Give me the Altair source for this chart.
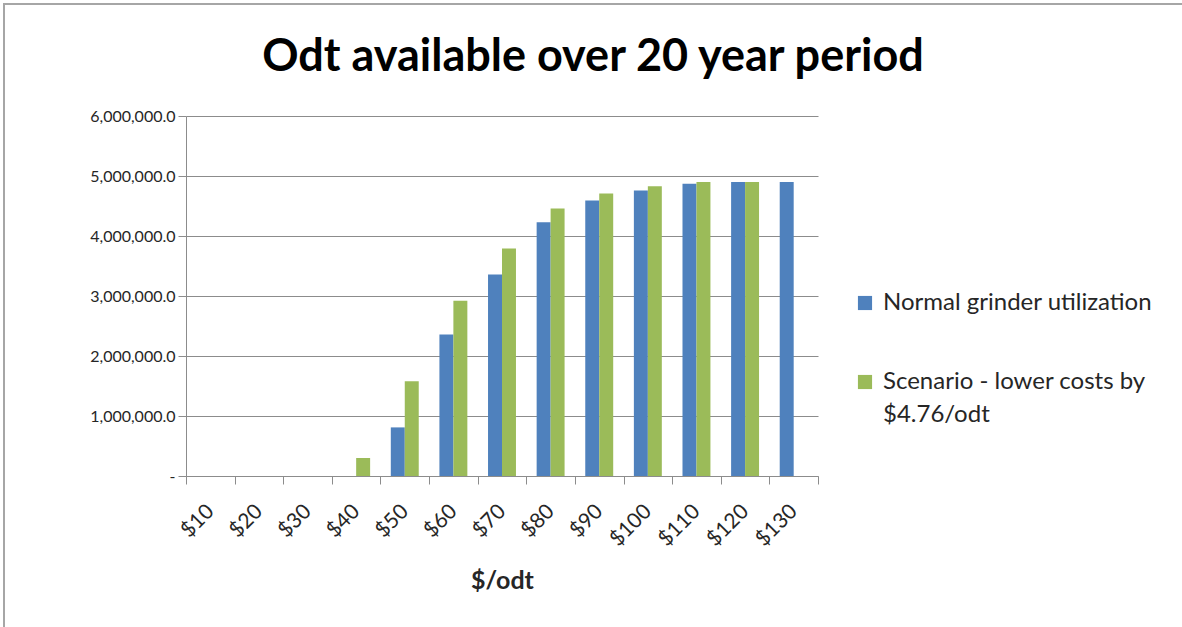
import altair as alt
import pandas as pd

# Price points on the x axis
prices = ["$10", "$20", "$30", "$40", "$50", "$60", "$70",
          "$80", "$90", "$100", "$110", "$120", "$130"]

# Oven-dry tonnes available at each price, over a 20 year period
normal = [0, 0, 0, 0, 810000, 2360000, 3360000, 4230000,
          4590000, 4760000, 4870000, 4900000, 4900000]
scenario = [0, 0, 0, 300000, 1580000, 2920000, 3790000, 4460000,
            4710000, 4830000, 4900000, 4900000, None]

series_names = ["Normal grinder utilization",
                "Scenario - lower costs by $4.76/odt"]
series_colors = ["#4F81BD", "#9BBB59"]
chart_title = "Odt available over 20 year period"

rows = []
for p, n, s in zip(prices, normal, scenario):
    rows.append({"price": p, "series": series_names[0], "odt": n})
    rows.append({"price": p, "series": series_names[1], "odt": s})
df = pd.DataFrame(rows)

W, H = 632, 360
LEFT, TOP = 186, 116
FONT = "Lato"
GRID = "#8C8C8C"
TEXT = "#262626"

bars = alt.Chart(df).mark_bar().encode(
    x=alt.X(
        "price:N",
        sort=prices,
        scale=alt.Scale(paddingInner=0, paddingOuter=0),
        axis=alt.Axis(
            title="$/odt",
            tickBand="extent",
            labelAngle=-45,
            labelAlign="right",
            labelBaseline="middle",
            labelPadding=24,
            labelFontSize=21,
            labelColor=TEXT,
            labelFont=FONT,
            tickSize=8,
            tickColor=GRID,
            domainColor=GRID,
            titleFont=FONT,
            titleFontSize=25,
            titleFontWeight="bold",
            titleColor=TEXT,
            titlePadding=19,
            grid=False,
        ),
    ),
    xOffset=alt.XOffset(
        "series:N",
        sort=series_names,
        scale=alt.Scale(paddingInner=0, paddingOuter=0.74),
    ),
    y=alt.Y(
        "odt:Q",
        scale=alt.Scale(domain=[0, 6000000]),
        axis=alt.Axis(
            title=None,
            values=[0, 1000000, 2000000, 3000000, 4000000, 5000000, 6000000],
            labelExpr="datum.value == 0 ? '-' : format(datum.value, ',.1f')",
            labelFontSize=16,
            labelColor=TEXT,
            labelFont=FONT,
            labelPadding=3,
            tickSize=8,
            tickColor=GRID,
            domainColor=GRID,
            gridColor=GRID,
            grid=True,
        ),
    ),
    color=alt.Color(
        "series:N",
        sort=series_names,
        scale=alt.Scale(domain=series_names, range=series_colors),
        legend=alt.Legend(
            title=None,
            orient="none",
            legendX=667,
            legendY=175,
            padding=0,
            symbolType="square",
            symbolSize=200,
            symbolStrokeWidth=0,
            symbolOpacity=1,
            labelFont=FONT,
            labelFontSize=24,
            labelColor=TEXT,
            labelLimit=400,
            labelOffset=6,
            rowPadding=55,
            labelExpr=(
                "datum.label == 'Scenario - lower costs by $4.76/odt' ? "
                "['Scenario - lower costs by', '$4.76/odt'] : datum.label"
            ),
        ),
    ),
)

# chart heading, centred across the full width
heading = alt.Chart(pd.DataFrame({"t": [chart_title]})).mark_text(
    font=FONT, fontSize=45, fontWeight="bold", color="#000000",
    align="center", baseline="alphabetic"
).encode(
    text="t:N", x=alt.value(593 - LEFT), y=alt.value(71 - TOP)
)

# grey frame round the whole chart
frame = alt.Chart(pd.DataFrame({"v": [0]})).mark_rect(
    fill=None, stroke="#A6A6A6", strokeWidth=2
).encode(
    x=alt.value(4 - LEFT), y=alt.value(4 - TOP),
    x2=alt.value(1182 - LEFT + 20), y2=alt.value(627 - TOP + 20)
)

chart = alt.layer(frame, heading, bars).properties(
    width=W,
    height=H,
    autosize=alt.AutoSizeParams(type="none"),
    padding={"left": LEFT, "top": TOP, "right": 1182 - LEFT - W,
             "bottom": 627 - TOP - H},
).configure(
    background="white",
    style={"guide-label": {"lineHeight": 33}},
).configure_view(stroke=None)

chart.save("out.html", embed_options={"renderer": "svg", "actions": False})
